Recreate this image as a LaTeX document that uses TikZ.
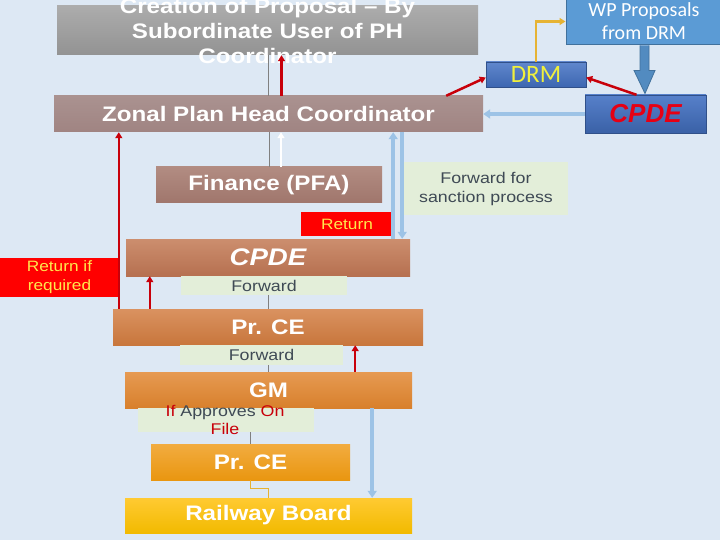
\documentclass[tikz,border=0pt]{standalone}
\usepackage{fontspec}
\setmainfont{Liberation Sans}[FakeStretch=1.15]
\newfontfamily\calfont{Carlito}
\newfontfamily\plainsans{Liberation Sans}
\usetikzlibrary{arrows.meta}

\definecolor{bgblue}{HTML}{DDE8F4}
\definecolor{notegreen}{HTML}{E3EED9}
\definecolor{notegray}{HTML}{3F4A55}
\definecolor{retyellow}{HTML}{FFE84D}
\definecolor{arrowred}{HTML}{C8000A}
\definecolor{paleblue}{HTML}{9DC3E6}
\definecolor{wpblue}{HTML}{5B9BD5}
\definecolor{wpedge}{HTML}{41719C}
\definecolor{drmblue}{HTML}{4472C4}
\definecolor{gold}{HTML}{F0C030}

\tikzset{
  stepbox/.style={inner sep=0pt, text=white, font=\bfseries\fontsize{21}{25}\selectfont},
  notebox/.style={fill=notegreen, inner sep=0pt, text=notegray, align=center,
    font=\fontsize{15.5}{19}\selectfont},
  redbox/.style={fill=red, inner sep=0pt, text=retyellow, align=center,
    font=\fontsize{15}{19}\selectfont},
  redarrow/.style={draw=arrowred, line width=2.5pt, -{Triangle[length=6pt,width=7pt]}},
  whitearrow/.style={draw=white, line width=2.5pt, -{Triangle[length=6pt,width=7pt]}},
  bluearrow/.style={draw=paleblue, line width=3.5pt, -{Triangle[length=7pt,width=9pt]}},
  grayline/.style={draw=gray, line width=0.7pt},
  goldline/.style={draw=gold!80!brown, line width=1pt},
  bigarrow/.style={fill=wpblue!90!black, draw=wpedge, line width=0.8pt}
}

\begin{document}
\begin{tikzpicture}[x=1pt,y=-1pt]
\useasboundingbox (0,0) rectangle (720,540);
\fill[bgblue] (0,0) rectangle (720,540);

% boxes of the chain
\node[stepbox, top color=gray!65, bottom color=gray!85, minimum width=421, minimum height=49] (creation) at (267.5,30.5) {};
\node[stepbox, align=center] (creationtxt) at (267.5,31) {Creation of Proposal – By\\Subordinate User of PH\\Coordinator};
\node[stepbox, top color={rgb,255:red,170;green,146;blue,144}, bottom color={rgb,255:red,160;green,132;blue,130}, minimum width=429, minimum height=36] (zonal) at (268.5,114) {Zonal Plan Head Coordinator};
\node[stepbox, top color={rgb,255:red,178;green,140;blue,130}, bottom color={rgb,255:red,160;green,118;blue,108}, minimum width=226, minimum height=36] (finance) at (269,185) {Finance (PFA)};
\node[stepbox, top color={rgb,255:red,204;green,142;blue,110}, bottom color={rgb,255:red,182;green,112;blue,80}, minimum width=284, minimum height=37, font=\bfseries\itshape\fontsize{24}{28}\selectfont] (cpdeM) at (268,257.5) {CPDE};
\node[stepbox, top color={rgb,255:red,218;green,146;blue,96}, bottom color={rgb,255:red,200;green,118;blue,60}, minimum width=310, minimum height=36] (prce) at (268,327) {Pr. CE};
\node[stepbox, top color={rgb,255:red,230;green,154;blue,82}, bottom color={rgb,255:red,216;green,128;blue,44}, minimum width=287, minimum height=36] (gm) at (268.5,390) {GM};
\node[stepbox, top color={rgb,255:red,242;green,172;blue,64}, bottom color={rgb,255:red,233;green,150;blue,16}, minimum width=199, minimum height=36] (prce2) at (250.5,462) {Pr. CE};
\node[stepbox, top color={rgb,255:red,255;green,202;blue,50}, bottom color={rgb,255:red,242;green,186;blue,0}, minimum width=287, minimum height=35] (board) at (268.5,515.5) {Railway Board};

% blue boxes on the right
\node[fill=wpblue, draw=wpedge, line width=1pt, minimum width=156, minimum height=47, inner sep=0pt, text=white, align=center, font=\calfont\fontsize{20}{23}\selectfont] (wp) at (644,21.5) {WP Proposals\\from DRM};
\node[top color=drmblue!85!white, bottom color=drmblue!90!black, draw=drmblue!70!black, minimum width=100, minimum height=25, inner sep=0pt, text={rgb,255:red,240;green,240;blue,60}, font=\calfont\fontsize{25}{28}\selectfont] (drm) at (536,74.5) {DRM};
\node[top color=drmblue!90!white, bottom color=drmblue!85!black, draw=drmblue!70!black, minimum width=121, minimum height=38, inner sep=0pt, text={rgb,255:red,230;green,0;blue,20}, font=\plainsans\bfseries\itshape\fontsize{26}{30}\selectfont] (cpdeR) at (645.5,114) {CPDE};

% thin links behind the labels
\draw[grayline] (creation.south -| zonal.north) -- (zonal.north);
\draw[grayline] (zonal.south -| finance.north) -- (finance.north);
\draw[grayline] (cpdeM.south) -- (cpdeM.south |- prce.north);
\draw[grayline] (prce.south -| gm.north) -- (gm.north);
\draw[grayline] (gm.south -| prce2.north) -- (prce2.north);
\draw[goldline] (prce2.south) -- ++(0,8) -| (board.north);

% labels
\node[notebox, minimum width=164, minimum height=53] (sanction) at (486,188.5) {Forward for\\sanction process};
\node[redbox, minimum width=92, minimum height=24] (returnA) at (347,224) {Return};
\node[redbox, minimum width=119, minimum height=39] (returnB) at (59.5,277.5) {Return if\\required};
\node[notebox, minimum width=166, minimum height=19] (fwdA) at (264,285.5) {Forward};
\node[notebox, minimum width=163, minimum height=20] (fwdB) at (261.5,355) {Forward};
\node[notebox, minimum width=176, minimum height=24] (approve) at (226,420) {};
\node[text=notegray, align=center, inner sep=0pt, font=\fontsize{15.5}{18}\selectfont] (approvetxt) at (225,420) {{\color{arrowred}If} Approves {\color{arrowred}On}\\{\color{arrowred}File}};

% arrows
\draw[goldline, line width=2.5pt, -{Triangle[length=6pt,width=7pt]}] (drm.north) |- (wp.west);
\filldraw[bigarrow] ([xshift=-4]wp.south) -- ([xshift=-4,yshift=-25]wp.south) -- ([xshift=-10,yshift=-25]wp.south)
  -- ([xshift=1,yshift=-48]wp.south) -- ([xshift=11,yshift=-25]wp.south) -- ([xshift=5,yshift=-25]wp.south) -- ([xshift=5]wp.south);
\draw[redarrow] ([xshift=13]zonal.north) -- ([xshift=13]zonal.north |- creation.south);
\draw[redarrow] ([xshift=-37]zonal.north east) -- ([yshift=-3]drm.west);
\draw[redarrow] ([xshift=-9]cpdeR.north) -- ([yshift=-3]drm.east);
\draw[redarrow] ([xshift=6]prce.north west) -- ([xshift=6]prce.north west |- zonal.south);
\draw[redarrow] ([xshift=37]prce.north west) -- ([xshift=37]prce.north west |- cpdeM.south);
\draw[redarrow] ([xshift=-57]gm.north east) -- ([xshift=-57]gm.north east |- prce.south);
\draw[whitearrow] ([xshift=12]finance.north) -- ([xshift=12]finance.north |- zonal.south);
\draw[bluearrow] (cpdeR.west) -- (zonal.east);
\draw[bluearrow] ([xshift=-17]cpdeM.north east) -- ([xshift=-17]cpdeM.north east |- zonal.south);
\draw[bluearrow] ([xshift=-8]cpdeM.north east |- zonal.south) -- ([xshift=-8]cpdeM.north east);
\draw[bluearrow] ([xshift=-40]gm.south east) -- ([xshift=-40]gm.south east |- board.north);
\end{tikzpicture}
\end{document}
